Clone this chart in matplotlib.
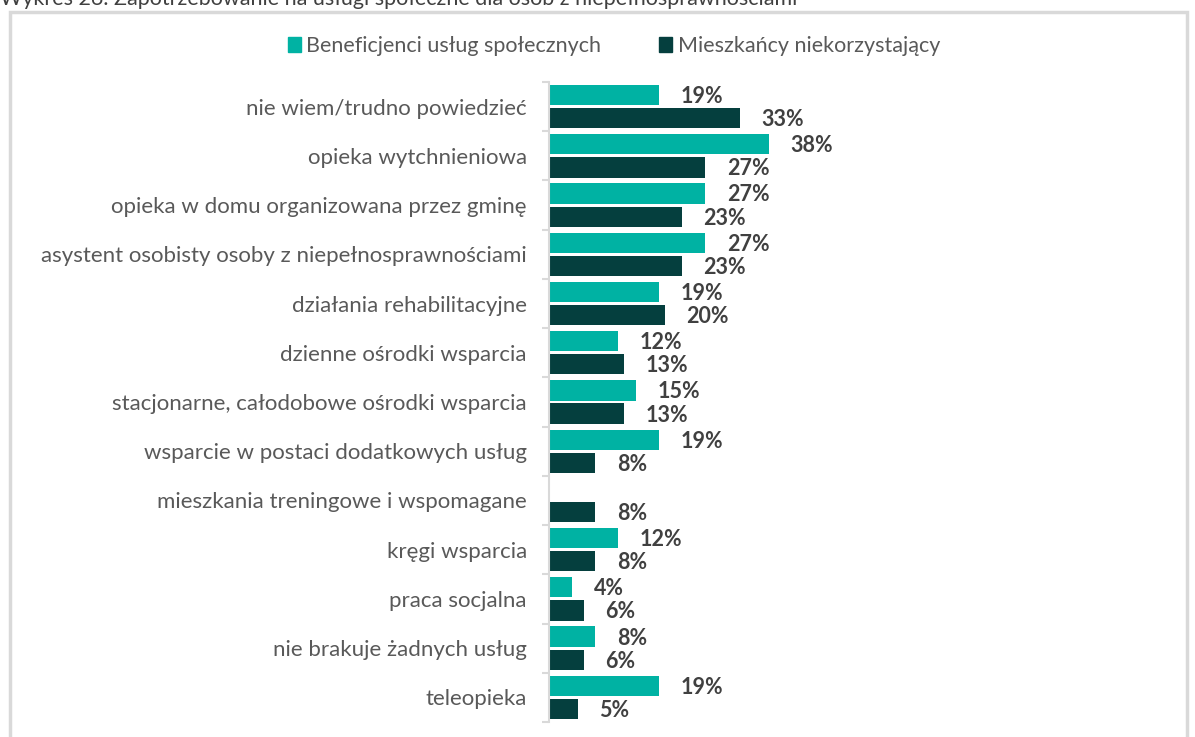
import numpy as np
import matplotlib.pyplot as plt
from matplotlib.patches import Rectangle, Patch

plt.rcParams['font.family'] = ['Lato', 'DejaVu Sans']

categories = [
    'nie wiem/trudno powiedzieć',
    'opieka wytchnieniowa',
    'opieka w domu organizowana przez gminę',
    'asystent osobisty osoby z niepełnosprawnościami',
    'działania rehabilitacyjne',
    'dzienne ośrodki wsparcia',
    'stacjonarne, całodobowe ośrodki wsparcia',
    'wsparcie w postaci dodatkowych usług',
    'mieszkania treningowe i wspomagane',
    'kręgi wsparcia',
    'praca socjalna',
    'nie brakuje żadnych usług',
    'teleopieka',
]
beneficjenci = [19, 38, 27, 27, 19, 12, 15, 19, 0, 12, 4, 8, 19]
mieszkancy = [33, 27, 23, 23, 20, 13, 13, 8, 8, 8, 6, 6, 5]
series_names = ['Beneficjenci usług społecznych', 'Mieszkańcy niekorzystający']

teal = '#00B2A3'
dark = '#053F3E'
grey = '#D9D9D9'

W, H = 1195, 737
fig = plt.figure(figsize=(W / 100, H / 100), dpi=100)

# frame around the chart (bottom edge is outside the picture)
fig.patches.append(Rectangle((9.5 / W, -0.1), (1187 - 9.5) / W, 1.1 - 11.5 / H,
                             transform=fig.transFigure, fill=False,
                             edgecolor=grey, linewidth=2.5))
# title, cut at the top like in the source picture
fig.text(0.0, 1 - 5 / H, 'Wykres 26. Zapotrzebowanie na usługi społeczne dla osób z niepełnosprawnościami',
         fontsize=15.5, color='#404040', va='baseline', ha='left')

left, right = 549, 1160
top, bottom = 82, 722
ax = fig.add_axes([left / W, 1 - bottom / H, (right - left) / W, (bottom - top) / H])
px_per_pct = 5.79
ax.set_xlim(0, (right - left) / px_per_pct)

n = len(categories)
y = np.arange(n)
bh = 0.41
off = 0.235
ax.barh(y - off, beneficjenci, height=bh, color=teal)
ax.barh(y + off, mieszkancy, height=bh, color=dark)
ax.set_ylim(n - 0.5, -0.5)

for i in range(n):
    if beneficjenci[i] > 0:
        ax.text(beneficjenci[i] + 3.7, y[i] - off + 0.03, f'{beneficjenci[i]}%', va='center', ha='left',
                fontsize=15.5, fontweight='bold', color='#404040')
    ax.text(mieszkancy[i] + 3.7, y[i] + off + 0.03, f'{mieszkancy[i]}%', va='center', ha='left',
            fontsize=15.5, fontweight='bold', color='#404040')

ax.set_yticks(y)
ax.set_yticklabels(categories, fontsize=16, color='#595959')
ax.set_yticks(np.arange(-0.5, n, 1.0), minor=True)
ax.tick_params(axis='y', which='major', length=0, pad=16)
ax.tick_params(axis='y', which='minor', length=5, width=1.5, color=grey)
ax.set_xticks([])
for s in ['top', 'right', 'bottom']:
    ax.spines[s].set_visible(False)
ax.spines['left'].set_color(grey)
ax.spines['left'].set_linewidth(1.5)

handles = [Patch(color=teal), Patch(color=dark)]
fig.legend(handles, series_names, loc='center', bbox_to_anchor=(614 / W, 1 - 46 / H), ncol=2,
           frameon=False, fontsize=15.5, handlelength=0.6, handleheight=0.75, handletextpad=0.25,
           columnspacing=2.7, labelcolor='#595959')

fig.savefig('out.png', dpi=100)
